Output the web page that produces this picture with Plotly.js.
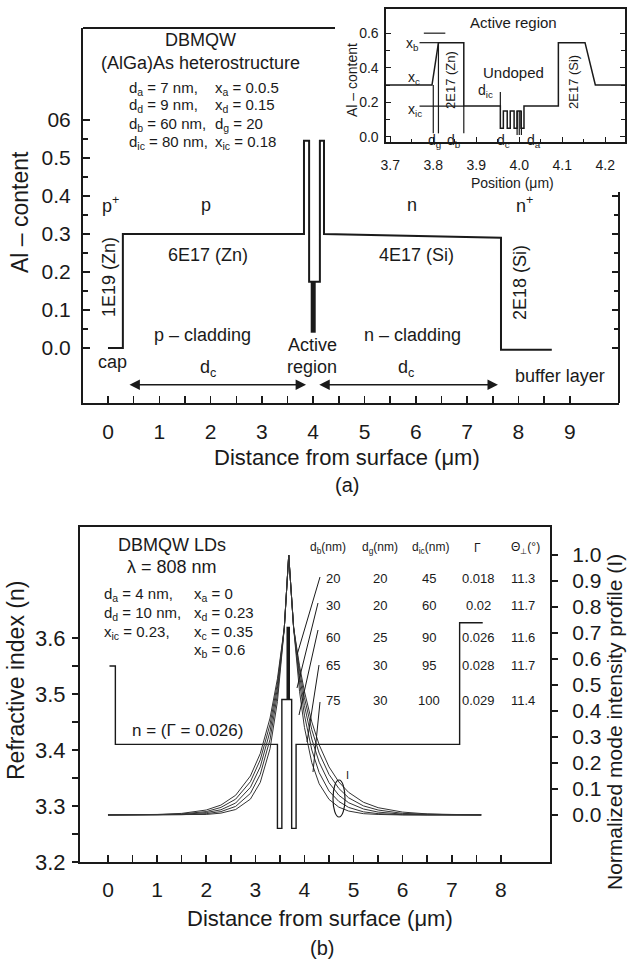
<!DOCTYPE html>
<html><head><meta charset="utf-8">
<script src="https://cdn.plot.ly/plotly-3.0.1.min.js"></script>
<style>html,body{margin:0;padding:0;background:#fff}#chart{width:628px;height:959px}</style>
</head><body><div id="chart"></div>
<script>
// ---------- DATA: panel (a) main Al-content profile ----------
const alPosX    = [0, 0.29, 0.29, 3.82, 3.82, 3.92, 3.92, 4.13, 4.13, 4.21, 4.21, 7.66, 7.66, 8.65];
const alContent = [0, 0, 0.30, 0.30, 0.545, 0.545, 0.174, 0.174, 0.545, 0.545, 0.30, 0.29, -0.005, -0.005];
const mqwBarX = [4.0, 4.0];
const mqwBarY = [0.04, 0.174];

// ---------- DATA: panel (a) inset ----------
const insetPosX = [3.69, 3.797, 3.812, 3.871, 3.871, 3.956, 3.956, 3.963, 3.963, 3.972, 3.972, 3.979, 3.979, 3.988, 3.988, 3.995, 3.995, 4.004, 4.004, 4.011, 4.011, 4.091, 4.091, 4.153, 4.177, 4.246];
const insetAl   = [0.30, 0.30, 0.545, 0.545, 0.178, 0.178, 0.05, 0.05, 0.15, 0.15, 0.05, 0.05, 0.15, 0.15, 0.05, 0.05, 0.15, 0.15, 0.05, 0.05, 0.178, 0.178, 0.545, 0.545, 0.30, 0.30];
const markPosX = [3.80,3.80,null, 3.812,3.812,null, 3.871,3.871,null, 3.956,3.956,null, 3.995,3.995,null, 4.0,4.0,null, 4.005,4.005,null, 3.778,3.828,null, 3.768,3.812,null, 3.768,3.871];
const markAl   = [0.30,0.02,null, 0.545,0.02,null, 0.178,0.02,null, 0.26,0.178,null, 0.15,0.01,null, 0.15,0.01,null, 0.15,0.01,null, 0.60,0.60,null, 0.545,0.545,null, 0.178,0.178];

// ---------- DATA: panel (b) ----------
const nPosX  = [0.03, 0.15, 0.15, 3.45, 3.45, 3.54, 3.54, 3.74, 3.74, 3.83, 3.83, 7.16, 7.16, 7.63];
const nIndex = [3.55, 3.55, 3.41, 3.41, 3.26, 3.26, 3.49, 3.49, 3.26, 3.26, 3.41, 3.41, 3.627, 3.627];
const qwX = [3.67, 3.67];
const qwN = [3.49, 3.62];
const modeX = [0, 0.5, 1.0, 1.5, 2.0, 2.3, 2.6, 2.9, 3.1, 3.3, 3.45, 3.59, 3.68, 3.78, 3.9, 4.0, 4.15, 4.3, 4.5, 4.7, 4.9, 5.2, 5.5, 6.0, 6.5, 7.0, 7.6];
const modeI20 = [0.0002,0.0006,0.002,0.006,0.019,0.038,0.076,0.150,0.236,0.373,0.524,0.72,1.0,0.72,0.574,0.475,0.358,0.270,0.185,0.127,0.087,0.049,0.028,0.011,0.004,0.002,0.0005];
const modeI30 = [0.0001,0.0003,0.001,0.004,0.013,0.029,0.061,0.128,0.212,0.349,0.507,0.72,1.0,0.72,0.558,0.451,0.328,0.238,0.156,0.102,0.066,0.035,0.019,0.006,0.002,0.0007,0.0002];
const modeI60 = [0,0.0001,0.0005,0.002,0.009,0.020,0.046,0.106,0.185,0.322,0.488,0.72,1.0,0.72,0.537,0.421,0.292,0.203,0.124,0.076,0.047,0.023,0.011,0.003,0.001,0,0];
const modeI65 = [0,0,0.0002,0.001,0.005,0.013,0.033,0.083,0.156,0.291,0.465,0.72,1.0,0.72,0.511,0.384,0.250,0.163,0.092,0.052,0.029,0.012,0.005,0.001,0,0,0];
const modeI75 = [0,0,0,0.0004,0.002,0.007,0.021,0.061,0.125,0.255,0.437,0.72,1.0,0.72,0.476,0.337,0.201,0.120,0.060,0.030,0.015,0.005,0.002,0,0,0,0];

// table
const tblDb    = ['20','30','60','65','75'];
const tblDg    = ['20','20','25','30','30'];
const tblDic   = ['45','60','90','95','100'];
const tblGamma = ['0.018','0.02','0.026','0.028','0.029'];
const tblTheta = ['11.3','11.7','11.6','11.7','11.4'];

// ticks
const topXTickVals = [0,1,2,3,4,5,6,7,8,9];
const topXMinor = [0.5,1.5,2.5,3.5,4.5,5.5,6.5,7.5,8.5];
const topYTickVals = [0,0.1,0.2,0.3,0.4,0.5,0.6];
const topYTickText = ['0.0','0.1','0.2','0.3','0.4','0.5','06'];
const topYMinor = [0.05,0.15,0.25,0.35,0.45,0.55];
const topRightTicks = [0,0.1,0.2,0.3,0.4];
const topRightMinor = [0.05,0.15,0.25,0.35];
const insetXTicks = [3.7,3.8,3.9,4.0,4.1,4.2];
const insetXText = ['3.7','3.8','3.9','4.0','4.1','4.2'];
const insetXMinor = [3.75,3.85,3.95,4.05,4.15];
const insetYTicks = [0,0.2,0.4,0.6];
const insetYText = ['0.0','0.2','0.4','0.6'];
const insetYMinor = [0.1,0.3,0.5];
const botXTicks = [0,1,2,3,4,5,6,7,8];
const botXMinor = [0.5,1.5,2.5,3.5,4.5,5.5,6.5,7.5];
const botNTicks = [3.2,3.3,3.4,3.5,3.6];
const botNMinor = [3.25,3.35,3.45,3.55];
const botITicks = [0,0.1,0.2,0.3,0.4,0.5,0.6,0.7,0.8,0.9,1.0];
const botIText = ['0.0','0.1','0.2','0.3','0.4','0.5','0.6','0.7','0.8','0.9','1.0'];

// ---------- LAYOUT ----------
const W = 628, H = 959;
const px = x => x / W, py = y => 1 - y / H;
const INK = '#1a1a1a';
const FONT = 'Liberation Sans, Arial, Helvetica, sans-serif';

function ax(o){
  return Object.assign({showgrid:false, zeroline:false, fixedrange:true, linecolor:INK, tickcolor:INK,
    tickfont:{family:FONT,size:21,color:INK}, tickmode:'array'}, o);
}

const layout = {
  width:W, height:H, margin:{l:0,r:0,t:0,b:0},
  paper_bgcolor:'#fff', plot_bgcolor:'rgba(0,0,0,0)', showlegend:false,
  font:{family:FONT, color:INK, size:14},
  xaxis: ax({domain:[px(83),px(619)], range:[-0.487,9.96], anchor:'y', showline:true, linewidth:2,
    ticks:'inside', ticklen:7, tickwidth:1.5, tickvals:topXTickVals, ticklabelstandoff:9,
    minor:{tickmode:'array', tickvals:topXMinor, ticks:'inside', ticklen:7, tickwidth:1.5, tickcolor:INK}}),
  yaxis: ax({domain:[py(403),py(28)], range:[-0.145,0.842], anchor:'x', showline:true, linewidth:2,
    ticks:'inside', ticklen:7, tickwidth:1.5, tickvals:topYTickVals, ticktext:topYTickText, ticklabelstandoff:6,
    minor:{tickmode:'array', tickvals:topYMinor, ticks:'inside', ticklen:5, tickwidth:1.3, tickcolor:INK}}),
  yaxis5: ax({overlaying:'y', side:'right', anchor:'x', range:[-0.145,0.842], showline:false, showticklabels:false,
    ticks:'inside', ticklen:7, tickwidth:1.5, tickvals:topRightTicks,
    minor:{tickmode:'array', tickvals:topRightMinor, ticks:'inside', ticklen:5, tickwidth:1.3, tickcolor:INK}}),
  xaxis2: ax({domain:[px(386),px(625)], range:[3.69,4.246], anchor:'y2', showline:true, linewidth:1.6, mirror:true,
    ticks:'inside', ticklen:5, tickwidth:1.2, tickvals:insetXTicks, ticktext:insetXText, ticklabelstandoff:10,
    tickfont:{family:FONT,size:14,color:INK},
    minor:{tickmode:'array', tickvals:insetXMinor, ticks:'inside', ticklen:3, tickwidth:1, tickcolor:INK}}),
  yaxis2: ax({domain:[py(142),py(9)], range:[-0.03,0.74], anchor:'x2', showline:true, linewidth:1.6, mirror:'ticks',
    ticks:'inside', ticklen:5, tickwidth:1.2, tickvals:insetYTicks, ticktext:insetYText, ticklabelstandoff:3,
    tickfont:{family:FONT,size:14,color:INK},
    minor:{tickmode:'array', tickvals:insetYMinor, ticks:'inside', ticklen:4, tickwidth:1, tickcolor:INK}}),
  xaxis3: ax({domain:[px(80),px(550)], range:[-0.57,9.0], anchor:'y3', showline:true, linewidth:2, mirror:true,
    ticks:'inside', ticklen:7, tickwidth:1.5, tickvals:botXTicks, ticklabelstandoff:8,
    minor:{tickmode:'array', tickvals:botXMinor, ticks:'inside', ticklen:7, tickwidth:1.5, tickcolor:INK}}),
  yaxis3: ax({domain:[py(862),py(527)], range:[3.2,3.798], anchor:'x3', showline:true, linewidth:2,
    ticks:'outside', ticklen:6, tickwidth:1.5, tickvals:botNTicks, ticklabelstandoff:2,
    tickfont:{family:FONT,size:22,color:INK},
    minor:{tickmode:'array', tickvals:botNMinor, ticks:'outside', ticklen:6, tickwidth:1.3, tickcolor:INK}}),
  yaxis4: ax({overlaying:'y3', side:'right', anchor:'x3', range:[-0.181,1.108], showline:true, linewidth:2,
    ticks:'outside', ticklen:6, tickwidth:1.5, tickvals:botITicks, ticktext:botIText, ticklabelstandoff:10}),
  shapes: [], annotations: []
};

function L(x0,y0,x1,y1,w){ layout.shapes.push({type:'line', xref:'paper', yref:'paper', x0:px(x0), y0:py(y0), x1:px(x1), y1:py(y1), line:{color:INK, width:w||2}}); }
function T(x,y,text,size,opt){ layout.annotations.push(Object.assign({xref:'paper', yref:'paper', x:px(x), y:py(y), text:text, showarrow:false,
  xanchor:'center', yanchor:'middle', font:{family:FONT, size:size, color:INK}}, opt||{})); }

// frame pieces of panel (a)
L(83,28,335,28,2);
L(619,192,619,403,2);

// panel (a) text
T(200,40,'DBMQW',18);
T(200,63,'(AlGa)As heterostructure',18);
const LA = {xanchor:'left'};
T(127,88,'d<sub>a</sub> = 7 nm,',15,LA);  T(213,88,'x<sub>a</sub> = 0.0.5',15,LA);
T(127,106,'d<sub>d</sub> = 9 nm,',15,LA); T(213,106,'x<sub>d</sub> = 0.15',15,LA);
T(127,124,'d<sub>b</sub> = 60 nm,',15,LA); T(213,124,'d<sub>g</sub> = 20',15,LA);
T(127,142,'d<sub>ic</sub> = 80 nm,',15,LA); T(213,142,'x<sub>ic</sub> = 0.18',15,LA);
T(110,205,'p<sup>+</sup>',18); T(206,205,'p',18); T(412,205,'n',18); T(524,205,'n<sup>+</sup>',18);
T(208,255,'6E17 (Zn)',18); T(416,255,'4E17 (Si)',18);
T(109,277,'1E19 (Zn)',18,{textangle:-90}); T(520,283,'2E18 (Si)',18,{textangle:-90});
T(202,335,'p – cladding',18); T(412,335,'n – cladding',18);
T(312,345,'Active',18); T(312,367,'region',18);
T(113,362,'cap',18);
T(208,368,'d<sub>c</sub>',18); T(406,368,'d<sub>c</sub>',18);
T(560,376,'buffer layer',18);
T(20,212,'Al – content',23,{textangle:-90});
T(347,457,'Distance from surface (μm)',22);
T(347,485,'(a)',20);
// arrows
[[0.39,3.86],[4.09,7.6]].forEach(p=>{
  layout.annotations.push({xref:'x', yref:'y', axref:'x', ayref:'y', x:p[1], y:-0.097, ax:p[0], ay:-0.097, text:'',
    showarrow:true, arrowhead:2, arrowside:'end+start', arrowsize:1.3, arrowwidth:1.6, arrowcolor:INK});
});

// inset text
T(513,23,'Active region',15); T(513,72,'Undoped',15);
T(450,80,'2E17 (Zn)',13,{textangle:-90}); T(573,82,'2E17 (Si)',13,{textangle:-90});
T(412,44,'x<sub>b</sub>',14); T(414,78,'x<sub>c</sub>',14); T(415,110,'x<sub>ic</sub>',14);
T(485,91,'d<sub>ic</sub>',14);
T(434,141,'d<sub>g</sub>',14); T(454,141,'d<sub>b</sub>',14); T(503,141,'d<sub>c</sub>',14); T(534,141,'d<sub>a</sub>',14);
T(352,80,'Al – content',14,{textangle:-90});
T(512,183,'Position (μm)',14);

// panel (b) text
T(172,545,'DBMQW LDs',18);
T(172,567,'λ = 808 nm',18);
T(102,594,'d<sub>a</sub> = 4 nm,',15,LA); T(192,594,'x<sub>a</sub> = 0',15,LA);
T(102,613,'d<sub>d</sub> = 10 nm,',15,LA); T(192,613,'x<sub>d</sub> = 0.23',15,LA);
T(102,632,'x<sub>ic</sub> = 0.23,',15,LA); T(192,632,'x<sub>c</sub> = 0.35',15,LA);
T(192,650,'x<sub>b</sub> = 0.6',15,LA);
T(187,730,'n = (Γ = 0.026)',17);
// table
const colX = [333,380,429,478,523], rowY = [578,605,637,665,700];
T(328,548,'d<sub>b</sub>(nm)',12); T(380,548,'d<sub>g</sub>(nm)',12); T(430,548,'d<sub>ic</sub>(nm)',12);
T(477,548,'Γ',12); T(525,548,'Θ<sub>⊥</sub>(°)',12);
[tblDb,tblDg,tblDic,tblGamma,tblTheta].forEach((col,ci)=>col.forEach((v,ri)=>T(colX[ci],rowY[ri],v,13)));
// pointer lines
const ptrStart = [[320,577],[318,603],[318,630],[319,665],[320,702]];
const ptrEnd   = [[297,655],[297,688],[299,715],[307,742],[313,772]];
ptrStart.forEach((s,i)=>L(s[0],s[1],ptrEnd[i][0],ptrEnd[i][1],1));
layout.shapes.push({type:'circle', xref:'paper', yref:'paper', x0:px(333), x1:px(345), y0:py(817), y1:py(780), line:{color:INK,width:1.2}});
T(347,775,'I',11);
T(16,681,'Refractive index (n)',23,{textangle:-90});
T(614,722,'Normalized mode intensity profile (I)',21,{textangle:-90});
T(320,918,'Distance from surface (μm)',22);
T(322,948,'(b)',20);

// ---------- TRACES ----------
const lineT = (x,y,xa,ya,w,c,shape) => ({type:'scatter', mode:'lines', x:x, y:y, xaxis:xa, yaxis:ya,
  line:{color:c||INK, width:w, shape:shape||'linear', smoothing:0.5}, hoverinfo:'skip', connectgaps:false});

const data = [
  lineT(alPosX, alContent, 'x','y', 2),
  lineT(mqwBarX, mqwBarY, 'x','y', 5),
  lineT(insetPosX, insetAl, 'x2','y2', 1.5),
  lineT(markPosX, markAl, 'x2','y2', 1.2),
  lineT(nPosX, nIndex, 'x3','y3', 1.4),
  lineT(qwX, qwN, 'x3','y3', 3.5),
  lineT(modeX, modeI20, 'x3','y4', 1, '#333'),
  lineT(modeX, modeI30, 'x3','y4', 1, '#333'),
  lineT(modeX, modeI60, 'x3','y4', 1, '#333'),
  lineT(modeX, modeI65, 'x3','y4', 1, '#333'),
  lineT(modeX, modeI75, 'x3','y4', 1, '#333'),
  {type:'scatter', mode:'lines', x:[0], y:[0], xaxis:'x', yaxis:'y5', hoverinfo:'skip', line:{width:0}}
];

Plotly.newPlot('chart', data, layout, {staticPlot:true, displayModeBar:false});
</script></body></html>
